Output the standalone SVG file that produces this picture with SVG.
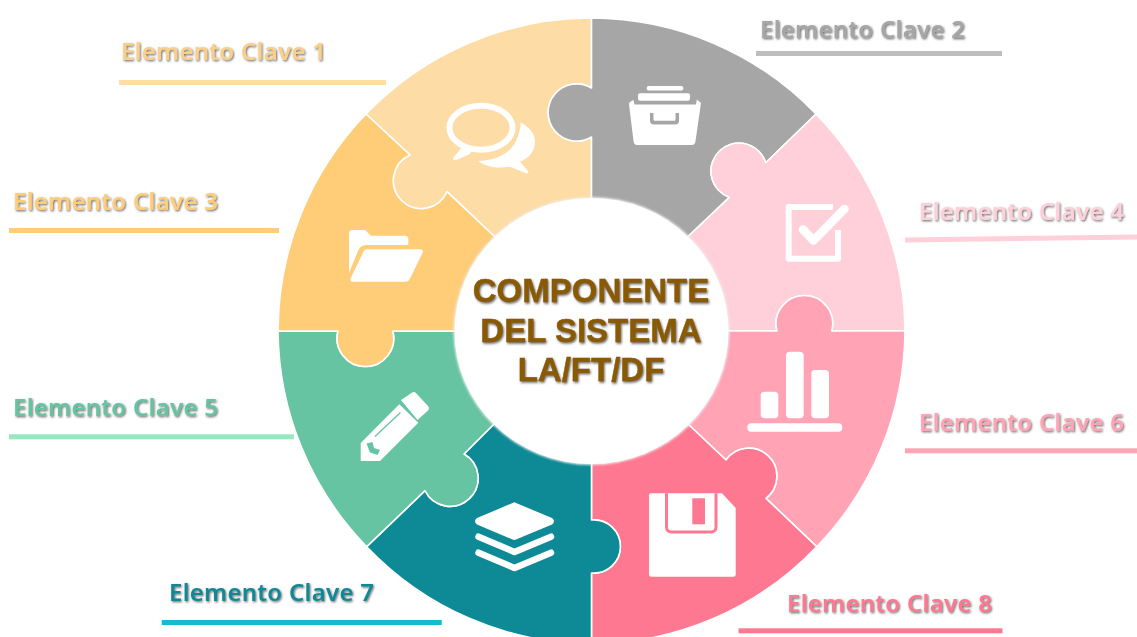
<svg xmlns="http://www.w3.org/2000/svg" width="1137" height="637" viewBox="0 0 1137 637">
<style>
.sec{stroke:#fff;stroke-width:1.6;stroke-linejoin:round}
.lab{font-family:"Noto Sans","Open Sans","Liberation Sans",sans-serif;font-weight:600;font-size:24px;filter:url(#ts)}
.ttl{font-family:"Liberation Sans",Arial,sans-serif;font-weight:700;font-size:33px;fill:#8a5a00;stroke:#8a5a00;stroke-width:0.4;text-anchor:middle;filter:url(#tt)}
.ic{fill:#fff}
.icl{fill:none;stroke:#fff;stroke-linecap:round;stroke-linejoin:round}
</style>
<defs>
<filter id="ts" x="-5%" y="-20%" width="110%" height="150%"><feDropShadow dx="1" dy="1.2" stdDeviation="0.8" flood-color="#444" flood-opacity="0.8"/></filter>
<filter id="tt" x="-5%" y="-20%" width="110%" height="150%"><feDropShadow dx="1" dy="1.5" stdDeviation="1.1" flood-color="#444" flood-opacity="0.8"/></filter>
<filter id="cs" x="-5%" y="-5%" width="110%" height="110%"><feGaussianBlur stdDeviation="1.2"/></filter>
</defs>
<rect width="1137" height="637" fill="#fff"/>
<g id="connectors">
<rect x="119" y="80" width="267" height="5" fill="#ffdda6"/>
<rect x="756" y="51" width="246" height="5" fill="#bdbdbd"/>
<rect x="9" y="228" width="270" height="5" fill="#ffcc78"/>
<path d="M905 237.500L1137 234.500V239.500L905 242.500Z" fill="#ffd0da"/>
<rect x="9" y="434.300" width="285" height="5" fill="#95e8c0"/>
<rect x="905" y="448.300" width="232" height="5" fill="#ffa3b5"/>
<rect x="161.700" y="620" width="280" height="5" fill="#12bccc"/>
<rect x="738.500" y="628.300" width="264" height="5" fill="#ff7891"/>
</g>
<g id="sector-1"><path class="sec" fill="#fddca5" d="M366 114A313 313 0 0 1 591.500 18V88A28.600 28.600 0 1 0 591.500 137V331L494 236L447 191.700A28 28 0 1 1 410 155Z"/>
<ellipse cx="481" cy="127.700" rx="31.500" ry="22" fill="none" stroke="#fff" stroke-width="6"/>
<path class="ic" d="M465 144L473 148L470 154L456 160C453.500 161 452 159 453.500 157.300Z"/>
<path class="ic" d="M520.700 122.300C530.500 128 535 135 535 141C535 150 530.500 157.500 520 161.700L528 171C529 173 527.500 173.800 525.500 173L510 166.700C498 168.500 486 167.500 478.300 161C495 160.500 510 154 516 141C518.500 135.500 520.700 129 520.700 122.300Z"/></g>
<g id="sector-2"><path class="sec" fill="#a6a6a6" d="M591.500 18A313 313 0 0 1 816 114L765.700 162.700A28 28 0 1 0 729.300 197.300L689 235.700L591.500 331V137A28.600 28.600 0 1 1 591.500 88Z"/>
<rect class="ic" x="646.700" y="86" width="36.600" height="4.500" rx="2"/>
<rect class="ic" x="638" y="93.300" width="52" height="7.500" rx="2"/>
<path class="ic" fill-rule="evenodd" d="M633.500 100L634.500 104.500H696L696.800 99.500L701 103L695.500 141C695.200 143.800 694 145 692 145H637C635 145 633.800 143.800 633.500 141L629 104C629 102.500 631.500 100.500 633.500 100ZM650 113V121C650 123.300 651.500 124.500 653.500 124.500H675.500C677.500 124.500 679 123.300 679 121V113H675.500V119C675.500 120.300 675 120.800 674 120.800H655C654 120.800 653.500 120.300 653.500 119V113Z"/></g>
<g id="sector-4"><path class="sec" fill="#ffd0da" d="M816 114A313 313 0 0 1 905 331H831.700A28.300 28.300 0 1 0 777 331H728L591.500 331L689 235.700L729.300 197.300A28 28 0 1 1 765.700 162.700Z"/>
<path class="icl" stroke-width="6" d="M833 207H788.700V258.700H838V230" style="stroke-linecap:butt"/>
<path class="icl" stroke-width="8.500" d="M803 229.500L813.500 240.500L844.500 209"/></g>
<g id="sector-6"><path class="sec" fill="#ffa3b5" d="M905 331A313 313 0 0 1 816.700 546.700L766 498.300A28 28 0 1 0 726 460L689 425L591.500 331H777A28.300 28.300 0 1 1 831.700 331Z"/>
<rect class="ic" x="760.700" y="391.700" width="17.600" height="26.600" rx="4"/>
<rect class="ic" x="786" y="351.700" width="17.700" height="66.600" rx="4"/>
<rect class="ic" x="811.300" y="370" width="17.700" height="48.300" rx="4"/>
<rect class="ic" x="747.300" y="423.300" width="95" height="8.400" rx="4"/></g>
<g id="sector-8"><path class="sec" fill="#ff7891" d="M816.700 546.700A313 313 0 0 1 591.500 644V573A26.600 26.600 0 1 0 591.500 520V331L689 425L726 460A28 28 0 1 1 766 498.300Z"/>
<path class="ic" d="M651 493.300H722L735.700 508V574.200A2.500 2.500 0 0 1 733.200 576.700H651.500A2.500 2.500 0 0 1 649 574.200V495.300A2 2 0 0 1 651 493.300Z"/>
<path d="M666.500 493.300V527C666.500 530 668.500 532 671.500 532H711C714 532 716 530 716 527V493.300" fill="none" stroke="#ff7891" stroke-width="3"/>
<rect x="692.300" y="498.300" width="12.700" height="26" fill="#ff7891"/></g>
<g id="sector-7"><path class="sec" fill="#0d8a96" d="M591.500 644A313 313 0 0 1 366.700 546.700L425 490.700A28 28 0 1 0 464 454L493 425L591.500 331V520A26.600 26.600 0 1 1 591.500 573Z"/>
<path class="ic" d="M514.300 502.300L552 518C554.500 519.500 554.500 523 552 524.500L516 539.500C515 540 513.500 540 512.500 539.500L477 524.500C474.500 523 474.500 519.500 477 518Z"/>
<path class="icl" stroke-width="6.500" d="M478.500 536.700L514.500 552L551 536.700"/>
<path class="icl" stroke-width="6.500" d="M478.500 552.700L514.500 568L551 552.700"/></g>
<g id="sector-5"><path class="sec" fill="#66c4a2" d="M366.700 546.700A313 313 0 0 1 278 331H338A28.300 28.300 0 1 0 392.700 331H591.500L493 425L464 454A28 28 0 1 1 425 490.700Z"/>
<path class="ic" d="M401 400L411.500 393A3.500 3.500 0 0 1 415.500 392.500L428 406A3.500 3.500 0 0 1 428 410.500L417.500 420Z"/>
<path class="ic" d="M399.300 404.300L418.300 422.700L380 461H360.700V443Z"/>
<path d="M375 436.500L400.500 412.500" stroke="#66c4a2" stroke-width="1.200" fill="none"/>
<path d="M366.500 443.500L372.500 442L374 448L380 450L377.500 455L370 452.500Z" fill="#66c4a2"/></g>
<g id="sector-3"><path class="sec" fill="#ffcc78" d="M278 331A313 313 0 0 1 366 114L410 155A28 28 0 1 0 447 191.700L494 236L591.500 331H392.700A28.300 28.300 0 1 1 338 331Z"/>
<path class="ic" d="M349 273V233C349 231 350.500 230 352 230H365L371 235.700H405C407 235.700 408.300 237 408.300 239V245H367C362 245 360 247 358 251L349 273Z"/>
<path class="ic" d="M367 249.300H420C422.500 249.300 423.500 251 422.500 253L410 278.500C409 280.700 407.500 281.700 405.500 281.700H353C350.500 281.700 349.800 279.500 351 277.500L363.500 251.500C364.300 250 365.500 249.300 367 249.300Z"/></g>
<g id="center">
<ellipse cx="591.500" cy="331" rx="138" ry="134" fill="#efefef" filter="url(#cs)"/>
<ellipse cx="591.500" cy="331" rx="137" ry="133" fill="#fff"/>
<text class="ttl" x="591" y="302">COMPONENTE</text>
<text class="ttl" x="591" y="342">DEL SISTEMA</text>
<text class="ttl" x="591" y="381">LA/FT/DF</text>
</g>
<g id="label-1"><text class="lab" x="121" y="59.700" fill="#fbcf88" textLength="205">Elemento Clave 1</text></g>
<g id="label-2"><text class="lab" x="760" y="38.300" fill="#a6a6a6" textLength="205">Elemento Clave 2</text></g>
<g id="label-3"><text class="lab" x="13" y="209.700" fill="#ffcc78" textLength="205">Elemento Clave 3</text></g>
<g id="label-4"><text class="lab" x="919" y="220" fill="#ffd0da" textLength="205">Elemento Clave 4</text></g>
<g id="label-5"><text class="lab" x="13" y="415.800" fill="#66c4a2" textLength="205">Elemento Clave 5</text></g>
<g id="label-6"><text class="lab" x="919" y="431" fill="#ffa3b5" textLength="205">Elemento Clave 6</text></g>
<g id="label-7"><text class="lab" x="169" y="601.300" fill="#0d8a96" textLength="205">Elemento Clave 7</text></g>
<g id="label-8"><text class="lab" x="787" y="612.300" fill="#ff7891" textLength="205">Elemento Clave 8</text></g>
</svg>
